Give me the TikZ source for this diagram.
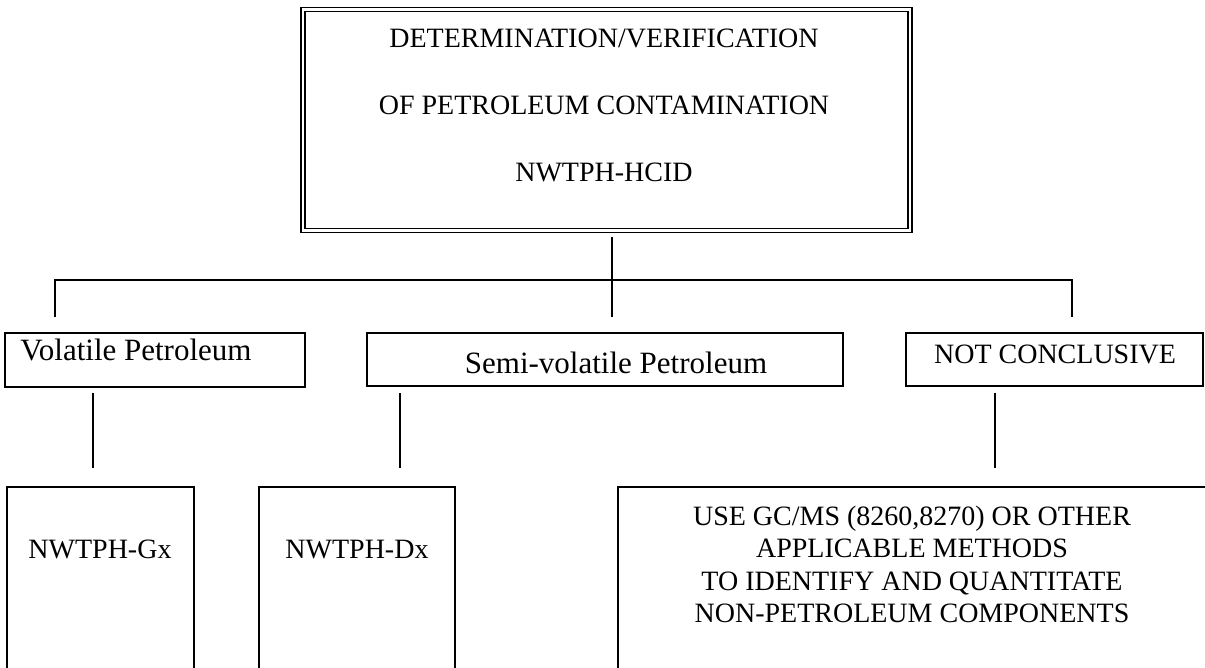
\documentclass[tikz,border=0pt]{standalone}
\usepackage{fontspec}
\setmainfont{Liberation Serif}
\usetikzlibrary{fit}
\begin{document}
\begin{tikzpicture}[x=0.5pt,y=-0.5pt,
  box/.style={draw, line width=0.85pt, inner sep=0pt},
  dbox/.style={draw, double, line width=0.8pt, double distance=1.2pt, inner sep=0pt},
  lbl/.style={font=\fontsize{14}{15}\selectfont, inner sep=0pt, anchor=base},
  mlbl/.style={lbl, font=\fontsize{15.5}{17}\selectfont},
  conn/.style={line width=0.85pt}]
\useasboundingbox (0,0) rectangle (1205,668);
\clip (0,0) rectangle (1205,668);
% top box
\node[dbox, fit={(303,9.5) (910,230.5)}] (top) {};
\node[lbl] (t1) at (604,48) {DETERMINATION/VERIFICATION};
\node[lbl] (t2) at (604,115) {OF PETROLEUM CONTAMINATION};
\node[lbl] (t3) at (604,182) {NWTPH-HCID};
% second row
\node[box, fit={(5,333) (305,387)}] (vol) {};
\node[mlbl] at (136,360) {Volatile Petroleum};
\node[box, fit={(367,333) (843,386)}] (semi) {};
\node[mlbl] at (616,373) {Semi-volatile Petroleum};
\node[box, fit={(906,333) (1203,386)}] (nc) {};
\node[lbl] at (1055,364) {NOT CONCLUSIVE};
% third row
\node[box, fit={(7,487) (194,700)}] (gx) {};
\node[lbl] at (100,558) {NWTPH-Gx};
\node[box, fit={(259,487) (455,700)}] (dx) {};
\node[lbl] at (357,558) {NWTPH-Dx};
\node[box, fit={(618,487) (1260,700)}] (use) {};
\node[lbl] at (912,525) {USE GC/MS (8260,8270) OR OTHER};
\node[lbl] at (912,557) {APPLICABLE METHODS};
\node[lbl] at (912,590) {TO IDENTIFY AND QUANTITATE};
\node[lbl] at (912,622) {NON-PETROLEUM COMPONENTS};
% connectors
\coordinate (ctop) at (612,237);
\coordinate (cbot) at (612,317);
\coordinate (jl) at (55,280);
\coordinate (jr) at (1072,280);
\coordinate (dl) at (55,317);
\coordinate (dr) at (1072,317);
\draw[conn] (ctop) -- (cbot);
\draw[conn] (dl) -- (jl) -- (jr) -- (dr);
\coordinate (v1) at (93,393);  \coordinate (v1b) at (93,468);
\coordinate (v2) at (400,393); \coordinate (v2b) at (400,468);
\coordinate (v3) at (995,393); \coordinate (v3b) at (995,468);
\draw[conn] (v1) -- (v1b);
\draw[conn] (v2) -- (v2b);
\draw[conn] (v3) -- (v3b);
\end{tikzpicture}
\end{document}
